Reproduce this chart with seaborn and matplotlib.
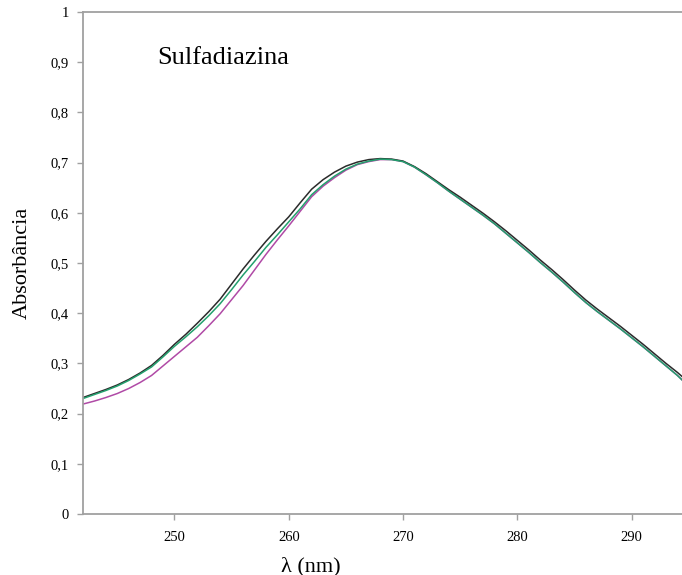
import matplotlib
matplotlib.use("Agg")
import matplotlib.pyplot as plt
import seaborn as sns
import pandas as pd

wavelength = [242, 243, 244, 245, 246, 247, 248, 249, 250, 251, 252, 253, 254, 255, 256, 257, 258, 259,
              260, 261, 262, 263, 264, 265, 266, 267, 268, 269, 270, 271, 272, 273, 274, 275, 276, 277,
              278, 279, 280, 281, 282, 283, 284, 285, 286, 287, 288, 289, 290, 291, 292, 293, 294, 294.5]
abs_black = [0.232, 0.240, 0.248, 0.257, 0.268, 0.281, 0.296, 0.316, 0.338, 0.358, 0.380, 0.403, 0.428, 0.458,
             0.488, 0.516, 0.543, 0.568, 0.592, 0.620, 0.647, 0.666, 0.681, 0.693, 0.701, 0.706, 0.708, 0.707,
             0.703, 0.692, 0.678, 0.662, 0.646, 0.631, 0.615, 0.599, 0.582, 0.564, 0.545, 0.526, 0.506, 0.487,
             0.467, 0.446, 0.426, 0.408, 0.391, 0.374, 0.356, 0.338, 0.319, 0.300, 0.282, 0.272]
abs_green = [0.230, 0.238, 0.246, 0.255, 0.266, 0.279, 0.293, 0.313, 0.334, 0.353, 0.373, 0.395, 0.419, 0.447,
             0.476, 0.503, 0.531, 0.556, 0.582, 0.608, 0.636, 0.656, 0.673, 0.687, 0.697, 0.703, 0.707, 0.706,
             0.702, 0.691, 0.676, 0.660, 0.643, 0.627, 0.611, 0.595, 0.578, 0.559, 0.540, 0.521, 0.501, 0.482,
             0.462, 0.441, 0.421, 0.403, 0.386, 0.369, 0.351, 0.333, 0.314, 0.295, 0.276, 0.265]
abs_magenta = [0.219, 0.225, 0.232, 0.240, 0.250, 0.262, 0.276, 0.295, 0.314, 0.333, 0.352, 0.375, 0.399, 0.427,
               0.455, 0.486, 0.517, 0.546, 0.574, 0.603, 0.632, 0.653, 0.670, 0.685, 0.696, 0.702, 0.706, 0.706,
               0.702, 0.691, 0.676, 0.660, 0.643, 0.627, 0.611, 0.595, 0.578, 0.559, 0.540, 0.521, 0.501, 0.482,
               0.462, 0.441, 0.421, 0.403, 0.386, 0.369, 0.351, 0.333, 0.314, 0.295, 0.276, 0.265]
yticks = [0, 0.1, 0.2, 0.3, 0.4, 0.5, 0.6, 0.7, 0.8, 0.9, 1]
ytick_labels = ["0", "0,1", "0,2", "0,3", "0,4", "0,5", "0,6", "0,7", "0,8", "0,9", "1"]
xticks = [250, 260, 270, 280, 290]

sns.set_style("white")
plt.rcParams['font.family'] = ['Liberation Serif', 'DejaVu Serif']
plt.rcParams['text.color'] = 'black'
plt.rcParams['axes.labelcolor'] = 'black'

fig = plt.figure(figsize=(6.82, 5.75), dpi=100)
ax = fig.add_axes([83/682, 1-514/575, 1-83/682, (514-12)/575])

series = [("magenta", abs_magenta, "#b04aa6"),
          ("black", abs_black, "#2b2b2b"),
          ("green", abs_green, "#23a06e")]
for name, vals, col in series:
    df = pd.DataFrame({"x": wavelength, "y": vals})
    sns.lineplot(data=df, x="x", y="y", ax=ax, color=col, linewidth=1.1)

ax.set_xlim(242, 294.4)
ax.set_ylim(0, 1)
ax.set_yticks(yticks)
ax.set_yticklabels(ytick_labels)
ax.set_xticks(xticks)
ax.set_xticklabels([str(v) for v in xticks])
ax.tick_params(axis='both', direction='out', length=4, width=1, color='#a0a0a0',
               labelsize=10.5, labelcolor='black', pad=6, left=True, bottom=True)
ax.tick_params(axis='x', pad=8)

for side in ['left', 'bottom', 'top']:
    ax.spines[side].set_visible(True)
    ax.spines[side].set_color('#a0a0a0')
    ax.spines[side].set_linewidth(1.3)
ax.spines['right'].set_visible(False)

ax.set_ylabel("Absorbância", fontsize=16, labelpad=14, color='black')
ax.set_xlabel("λ (nm)", fontsize=16, labelpad=6, color='black')
ax.xaxis.set_label_coords(0.38, -0.085)

ax.text(248.5, 0.908, "Sulfadiazina", fontsize=19, va='center', ha='left', color='black')

fig.savefig("out.png", dpi=100)
